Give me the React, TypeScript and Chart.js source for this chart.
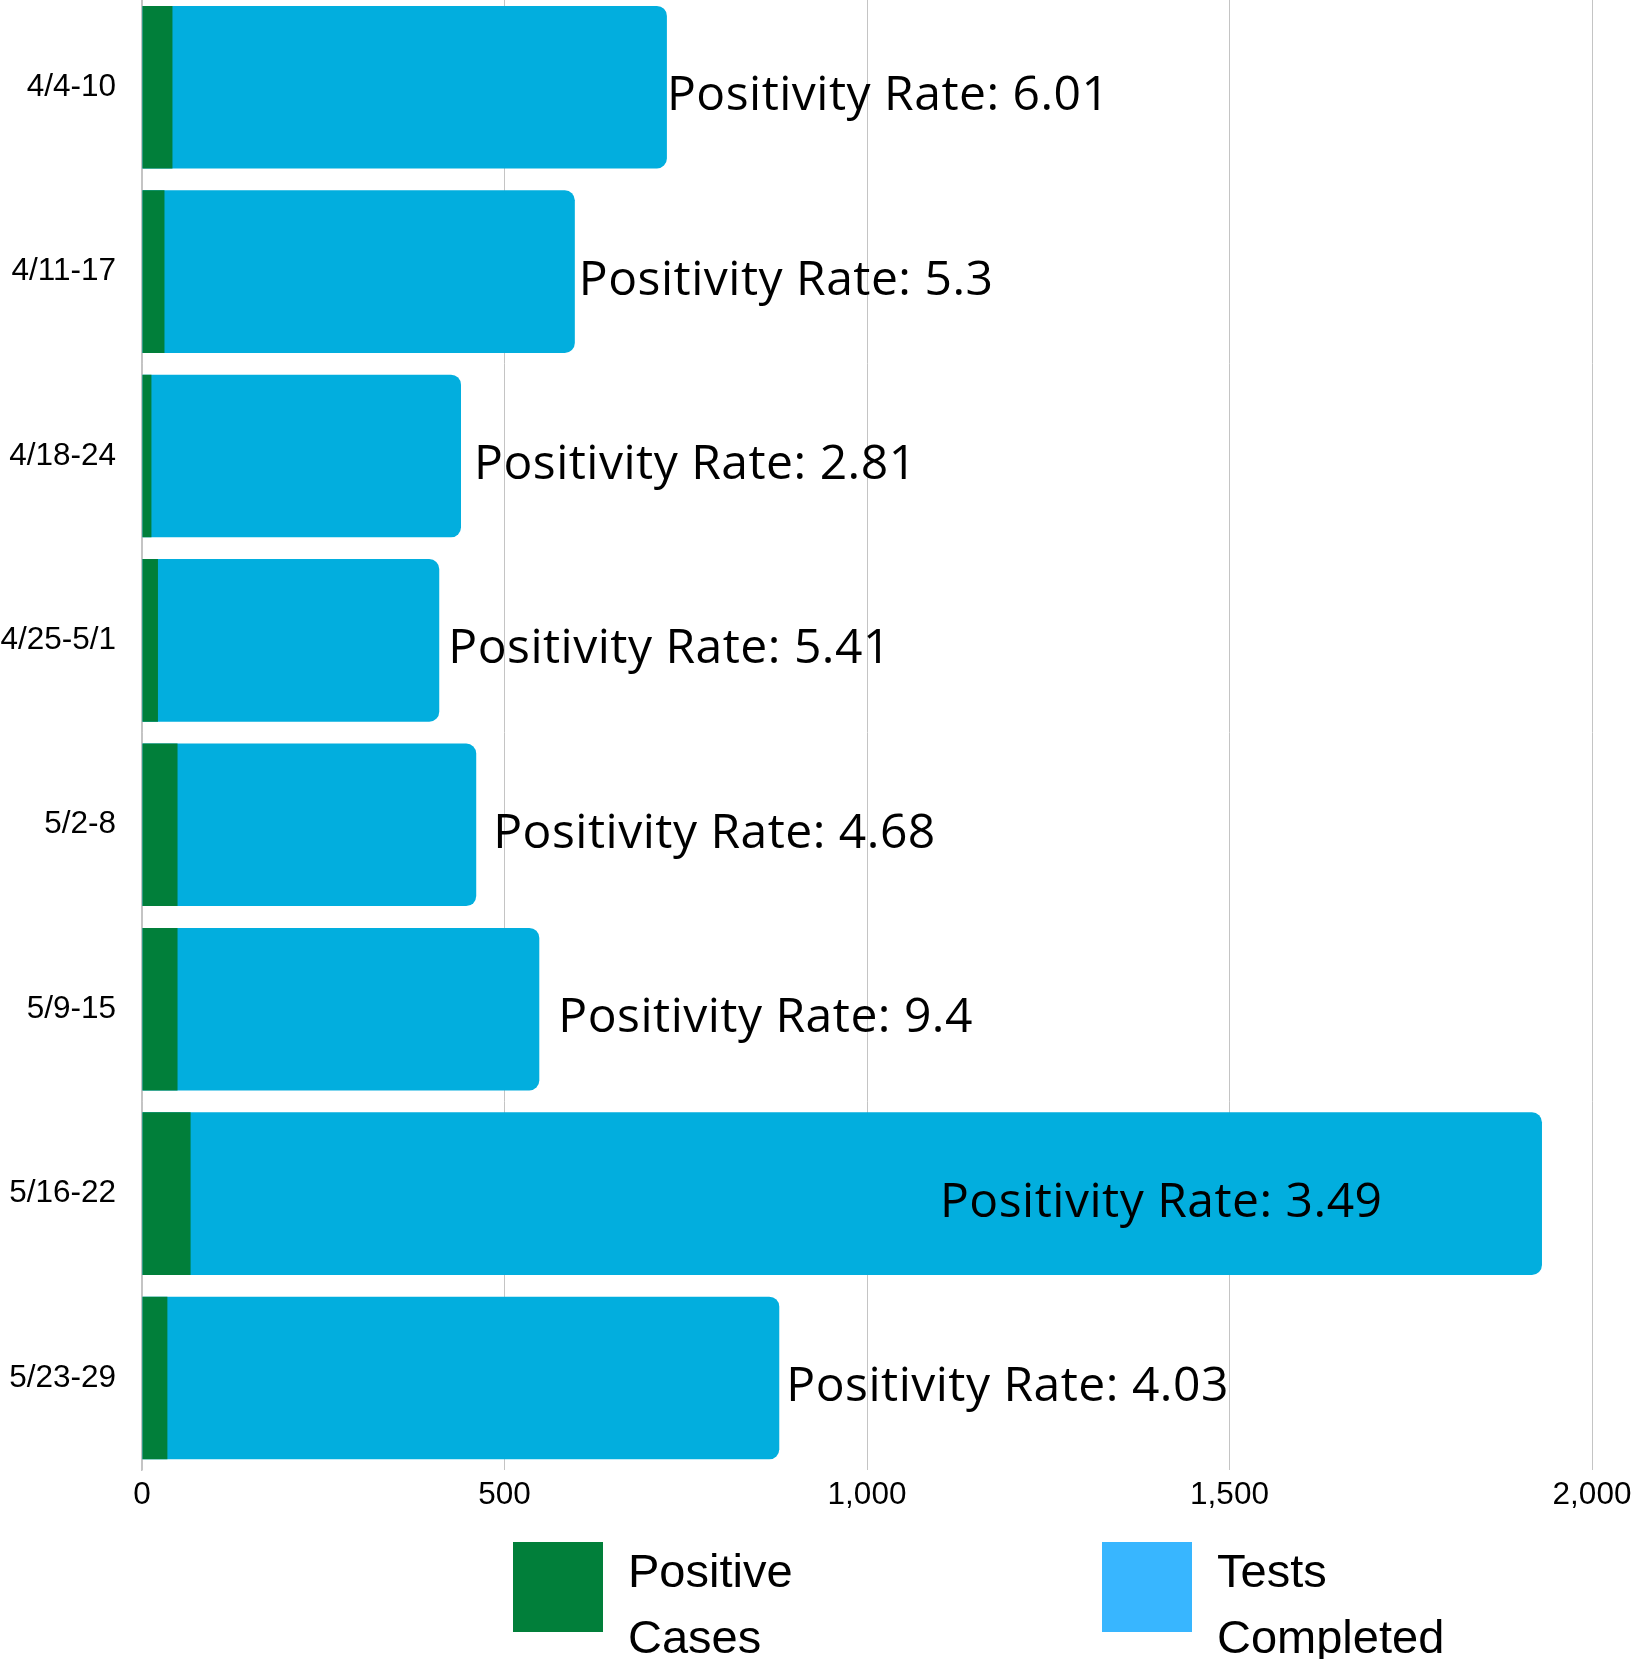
import React, { useEffect, useRef } from 'react';
import { Chart, registerables } from 'chart.js';

Chart.register(...registerables);

// ---- data ----
const weeks = ['4/4-10', '4/11-17', '4/18-24', '4/25-5/1', '5/2-8', '5/9-15', '5/16-22', '5/23-29'];
const positiveCases = [42, 31, 13, 22, 49, 49, 67, 35];
const testsCompleted = [724, 597, 440, 410, 461, 548, 1931, 879];
const positivityRates = ['6.01', '5.3', '2.81', '5.41', '4.68', '9.4', '3.49', '4.03'];
const seriesLabels = ['Positive Cases', 'Tests Completed'];
const xMin = 0;
const xMax = 2000;
const xStep = 500;

// ---- styling / layout ----
const GREEN = '#017F3A';
const BLUE = '#02AEDE';
const legendColors = ['#017F3A', '#38B6FF'];
const rateLabelOffsets = [0, 4, 13, 9, 17, 19, -602, 7];
const CANVAS_W = 1632;
const CANVAS_H = 1664;
const TOP_SHIFT = -5;
const Y_AXIS_WIDTH = 142;

const rateLabelPlugin = {
  id: 'rateLabels',
  afterDatasetsDraw(chart: any) {
    const meta = chart.getDatasetMeta(1);
    const ctx = chart.ctx;
    ctx.save();
    ctx.font = '48px "Open Sans"';
    try { (ctx as any).letterSpacing = '0.5px'; } catch (e) { /* ignore */ }
    ctx.fillStyle = '#000';
    ctx.textAlign = 'left';
    ctx.textBaseline = 'alphabetic';
    meta.data.forEach((el: any, i: number) => {
      ctx.fillText('Positivity Rate: ' + positivityRates[i], el.x + rateLabelOffsets[i], el.y + 23);
    });
    ctx.restore();
  },
};

const customLegendPlugin = {
  id: 'customLegend',
  afterDraw(chart: any) {
    const ctx = chart.ctx;
    const boxLefts = [513, 1102];
    const boxTop = 1547;
    const boxSize = 90;
    const textGap = 25;
    const firstBaseline = 1592;
    const lineGap = 66;
    ctx.save();
    ctx.font = '47px "Liberation Sans"';
    ctx.textAlign = 'left';
    ctx.textBaseline = 'alphabetic';
    chart.data.datasets.forEach((ds: any, i: number) => {
      ctx.fillStyle = legendColors[i];
      ctx.fillRect(boxLefts[i], boxTop, boxSize, boxSize);
      ctx.fillStyle = '#000';
      const words = String(ds.label).split(' ');
      words.forEach((w: string, j: number) => {
        ctx.fillText(w, boxLefts[i] + boxSize + textGap, firstBaseline + j * lineGap);
      });
    });
    ctx.restore();
  },
};

export default function App() {
  const canvasRef = useRef<HTMLCanvasElement | null>(null);

  useEffect(() => {
    if (!canvasRef.current) return;
    const chart = new Chart(canvasRef.current, {
      type: 'bar',
      data: {
        labels: weeks,
        datasets: [
          {
            label: seriesLabels[0],
            data: positiveCases,
            backgroundColor: GREEN,
            grouped: false,
            barPercentage: 0.882,
            categoryPercentage: 1,
            borderRadius: 0,
            borderSkipped: 'start',
          } as any,
          {
            label: seriesLabels[1],
            data: testsCompleted,
            backgroundColor: BLUE,
            grouped: false,
            barPercentage: 0.882,
            categoryPercentage: 1,
            borderRadius: 10,
            borderSkipped: 'start',
          } as any,
        ],
      },
      options: {
        indexAxis: 'y',
        responsive: false,
        animation: false,
        devicePixelRatio: 1,
        layout: { padding: { top: 0, right: 40, bottom: 139, left: 0 } },
        plugins: {
          legend: { display: false },
          tooltip: { enabled: false },
        },
        scales: {
          x: {
            type: 'linear',
            min: xMin,
            max: xMax,
            ticks: {
              stepSize: xStep,
              padding: 6,
              color: '#000',
              font: { family: '"Liberation Sans"', size: 31.5 },
            },
            grid: { color: '#c4c4c4', lineWidth: 1, drawTicks: false },
            border: { display: false },
            afterFit: (scale: any) => {
              scale.paddingLeft = 0;
              scale.paddingRight = 0;
            },
          },
          y: {
            type: 'category',
            ticks: {
              padding: 26,
              color: '#000',
              font: { family: '"Liberation Sans"', size: 31.5 },
            },
            grid: { display: false, drawTicks: false },
            border: { display: true, color: '#c4c4c4', width: 1.5 },
            afterFit: (scale: any) => {
              scale.width = Y_AXIS_WIDTH;
              scale.paddingTop = 0;
              scale.paddingBottom = 0;
            },
          },
        },
      },
      plugins: [rateLabelPlugin, customLegendPlugin],
    });
    return () => chart.destroy();
  }, []);

  return (
    <div style={{ position: 'absolute', left: 0, top: TOP_SHIFT, width: CANVAS_W, height: CANVAS_H }}>
      <canvas ref={canvasRef} width={CANVAS_W} height={CANVAS_H} style={{ display: 'block' }} />
    </div>
  );
}
